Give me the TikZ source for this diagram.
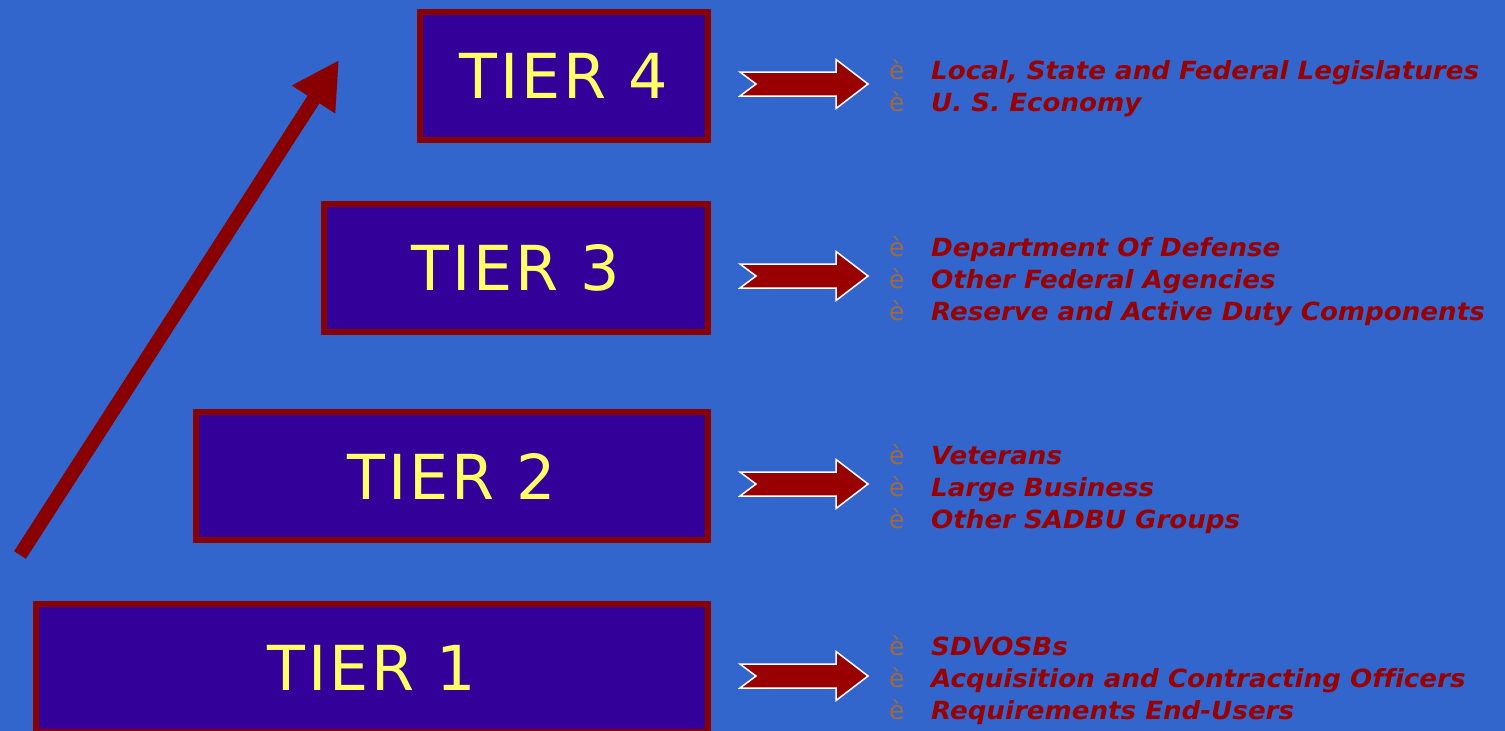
\documentclass[tikz,border=0pt]{standalone}
\usepackage{fontspec}
\setmainfont{DejaVu Sans}
\usetikzlibrary{arrows.meta}
\definecolor{bg}{HTML}{3366CC}
\definecolor{boxfill}{HTML}{330099}
\definecolor{boxline}{HTML}{880000}
\definecolor{tiertext}{HTML}{FFFF66}
\definecolor{arrowred}{HTML}{990000}
\definecolor{itemred}{HTML}{990000}
\definecolor{bulletcol}{HTML}{9E6A3E}
\newfontfamily\itemfont{DejaVu Sans Bold Oblique}[FakeStretch=1.045,Ligatures=NoCommon]
\newfontfamily\tierfont{DejaVu Sans}[LetterSpace=4.5]
\newfontfamily\bulfont{DejaVu Sans}
\newcommand{\bul}{\makebox[42pt][l]{\bulfont\fontsize{25}{32}\selectfont\color{bulletcol}è}}
\tikzset{
  tierbox/.style={draw=boxline, line width=6pt, fill=boxfill, inner sep=0pt,
    minimum height=128pt, text=tiertext, font=\tierfont\fontsize{62}{70}\selectfont},
  itemline/.style={anchor=base west, inner sep=0pt, text=itemred,
    font=\itemfont\fontsize{25}{32}\selectfont},
  blockarrow/.pic={
    \fill[arrowred, draw=white, line width=1.5pt, line join=miter]
      (-128,-12) -- (-112,0) -- (-128,12) -- (-32,12) -- (-32,24.5) -- (0,0)
      -- (-32,-24.5) -- (-32,-12) -- cycle;
  },
  bigarrow/.style={draw=boxline, line width=14pt,
    -{Triangle[length=47pt,width=48pt]}}
}
\begin{document}
\begin{tikzpicture}[x=1pt,y=-1pt]
\fill[bg] (0,0) rectangle (1505,731);
\useasboundingbox (0,0) rectangle (1505,731);

\node[tierbox, minimum width=288pt] (t4) at (564,76) {TIER 4};
\node[tierbox, minimum width=384pt] (t3) at (516,268) {TIER 3};
\node[tierbox, minimum width=512pt] (t2) at (452,476) {TIER 2};
\node[tierbox, minimum width=672pt] (t1) at (372,668) {TIER 1};

\coordinate (tail) at (20,555);
\coordinate (tip) at (339,60);
\draw[bigarrow] (tail) -- (tip);

\pic at (868,84) {blockarrow};
\pic at (868,276) {blockarrow};
\pic at (868,484) {blockarrow};
\pic at (868,676) {blockarrow};

\node[itemline] (l4a) at (889,79.5) {\bul Local, State and Federal Legislatures};
\node[itemline] (l4b) at (889,111.5) {\bul U. S. Economy};

\node[itemline] (l3a) at (889,256) {\bul Department Of Defense};
\node[itemline] (l3b) at (889,288) {\bul Other Federal Agencies};
\node[itemline] (l3c) at (889,320) {\bul Reserve and Active Duty Components};

\node[itemline] (l2a) at (889,464) {\bul Veterans};
\node[itemline] (l2b) at (889,496) {\bul Large Business};
\node[itemline] (l2c) at (889,528) {\bul Other SADBU Groups};

\node[itemline] (l1a) at (889,655) {\bul SDVOSBs};
\node[itemline] (l1b) at (889,687) {\bul Acquisition and Contracting Officers};
\node[itemline] (l1c) at (889,719) {\bul Requirements End-Users};
\end{tikzpicture}
\end{document}
